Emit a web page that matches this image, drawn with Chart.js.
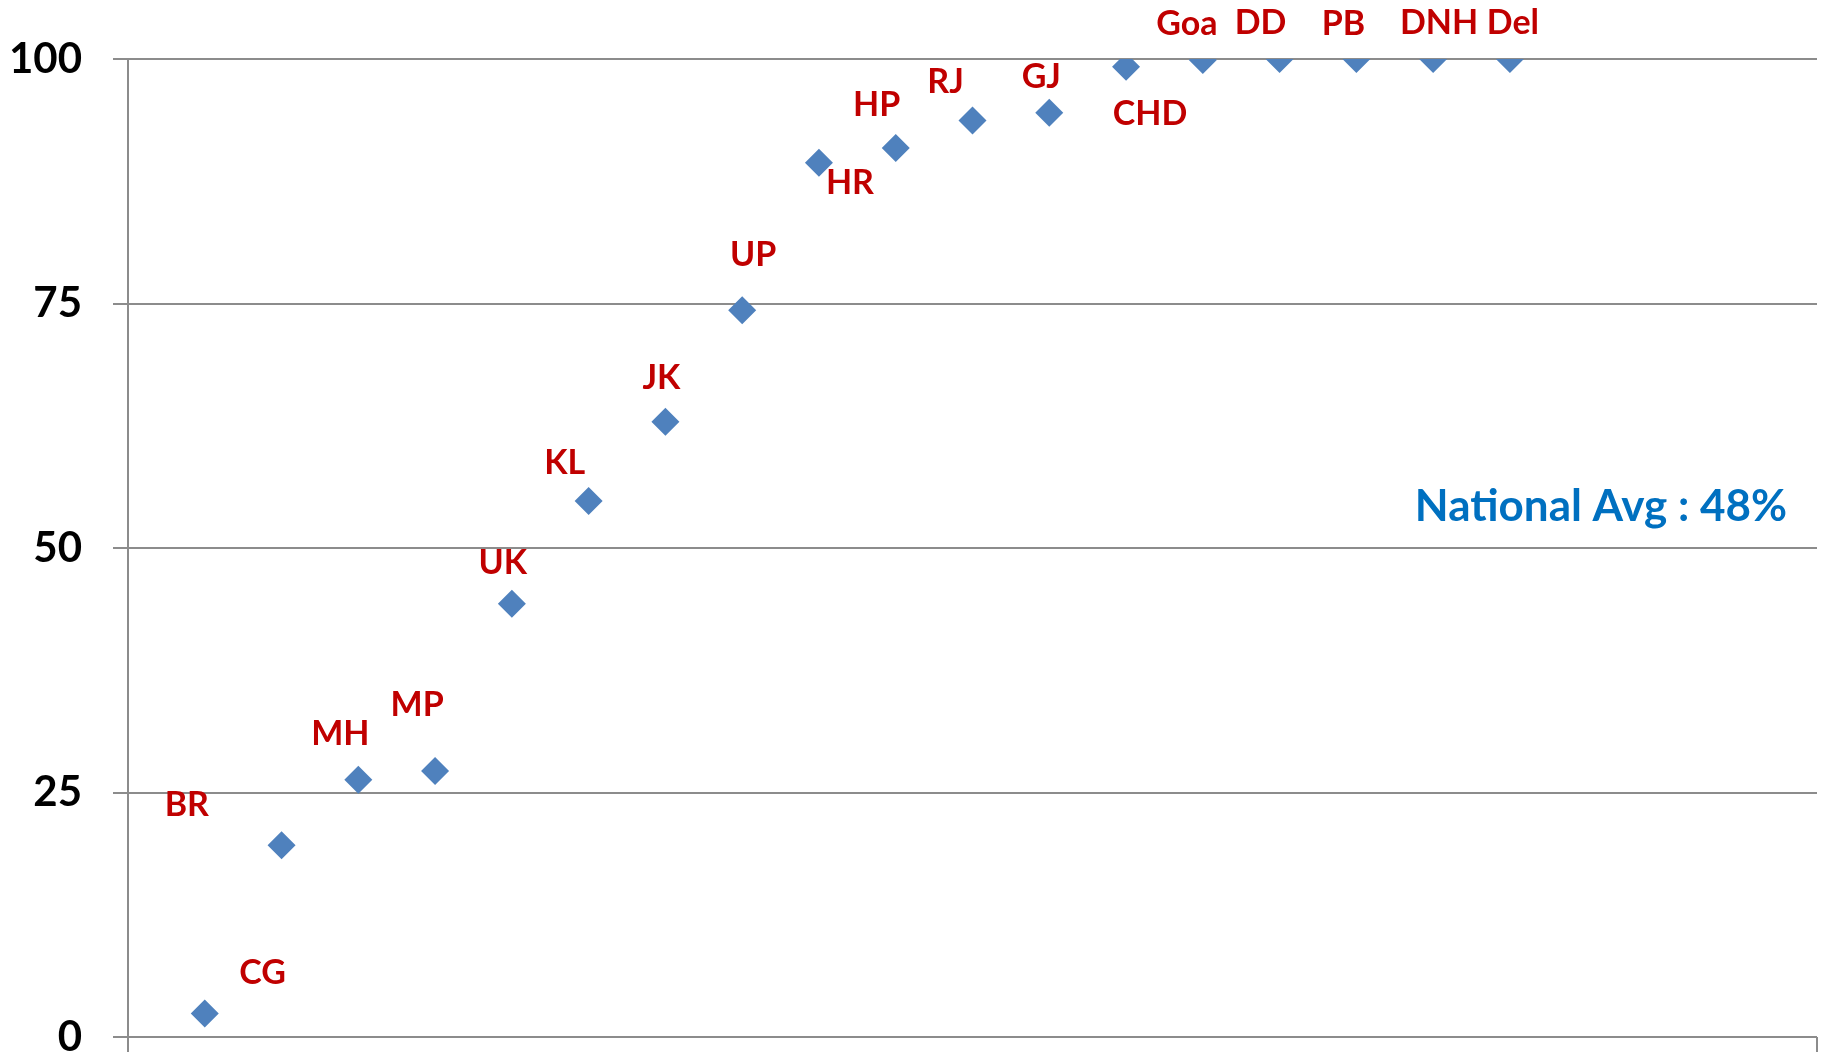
<!DOCTYPE html>
<html>
<head>
<meta charset="utf-8">
<script src="https://cdn.jsdelivr.net/npm/chart.js@4/dist/chart.umd.min.js"></script>
<style>
  html, body { margin: 0; padding: 0; background: #fff; }
  #wrap { width: 1831px; height: 1056px; }
</style>
</head>
<body>
<div id="wrap"><canvas id="chart"></canvas></div>
<script>
// states, in plotting order (x = 1..18)
const states = ['BR', 'CG', 'MH', 'MP', 'UK', 'KL', 'JK', 'UP', 'HR', 'HP',
                'RJ', 'GJ', 'CHD', 'Goa', 'DD', 'PB', 'DNH', 'Del'];
const coverage = [2.4, 19.6, 26.3, 27.2, 44.3, 54.8, 62.9, 74.3, 89.4, 90.9,
                  93.7, 94.5, 99.2, 99.9, 100, 100, 100, 100];
const yTicks = [0, 25, 50, 75, 100];
const nationalAvg = 'National Avg : 48%';

// where each label sits relative to its marker (px)
const labelOffsets = [
  [-18, -208], [-19, 128], [-18, -46], [-18, -66], [-9, -41], [-24, -38],
  [-4, -44], [11, -55], [31, 20], [-19, -43], [-27, -39], [-8, -36],
  [24, 47], [-16, -36], [-19, -36], [-13, -35], [6, -36], [3, -36]
];

const FONT = 'Lato, "Open Sans", sans-serif';
const GRID = '#8c8c8c';

let points = coverage.map((v, i) => ({ x: i + 1, y: v }));

const labelPlugin = {
  id: 'stateLabels',
  afterDatasetsDraw(chart) {
    const ctx = chart.ctx;
    const meta = chart.getDatasetMeta(0);
    ctx.save();
    ctx.font = 'bold 34px ' + FONT;
    ctx.fillStyle = '#c00000';
    ctx.textAlign = 'center';
    ctx.textBaseline = 'middle';
    meta.data.forEach((pt, i) => {
      let off = labelOffsets[i];
      ctx.fillText(states[i], pt.x + off[0], pt.y + off[1]);
    });

    // national average note
    const area = chart.chartArea;
    ctx.font = 'bold 44px ' + FONT;
    ctx.fillStyle = '#0070c0';
    ctx.textAlign = 'right';
    ctx.fillText(nationalAvg, area.right - 30, 507);
    ctx.restore();
  }
};

new Chart(document.getElementById('chart'), {
  type: 'scatter',
  data: {
    datasets: [{
      data: points,
      pointStyle: 'rectRot',
      pointRadius: 14,
      pointHoverRadius: 14,
      backgroundColor: '#4f81bd',
      borderColor: '#4f81bd',
      borderWidth: 0
    }]
  },
  options: {
    responsive: true,
    maintainAspectRatio: false,
    animation: false,
    layout: { padding: { top: 59, right: 11, bottom: 4, left: 0 } },
    plugins: {
      legend: { display: false },
      tooltip: { enabled: false }
    },
    scales: {
      x: {
        type: 'linear',
        min: 0,
        max: 22,
        ticks: { display: false, stepSize: 22 },
        grid: {
          drawOnChartArea: false,
          drawTicks: true,
          tickLength: 15,
          color: GRID,
          lineWidth: 2
        },
        border: { display: false },
        afterFit: (scale) => {
          scale.height = 15;
          scale.paddingLeft = 0;
          scale.paddingRight = 0;
        }
      },
      y: {
        min: 0,
        max: 100,
        afterBuildTicks: (scale) => { scale.ticks = yTicks.map(v => ({ value: v })); },
        ticks: {
          color: '#000',
          font: { family: FONT, size: 42, weight: 'bold' },
          padding: 31
        },
        grid: {
          color: GRID,
          lineWidth: 2,
          tickLength: 15
        },
        border: { display: true, color: GRID, width: 2 },
        afterFit: (scale) => {
          scale.width = 128;
          scale.paddingTop = 0;
          scale.paddingBottom = 0;
        }
      }
    }
  },
  plugins: [labelPlugin]
});
</script>
</body>
</html>
